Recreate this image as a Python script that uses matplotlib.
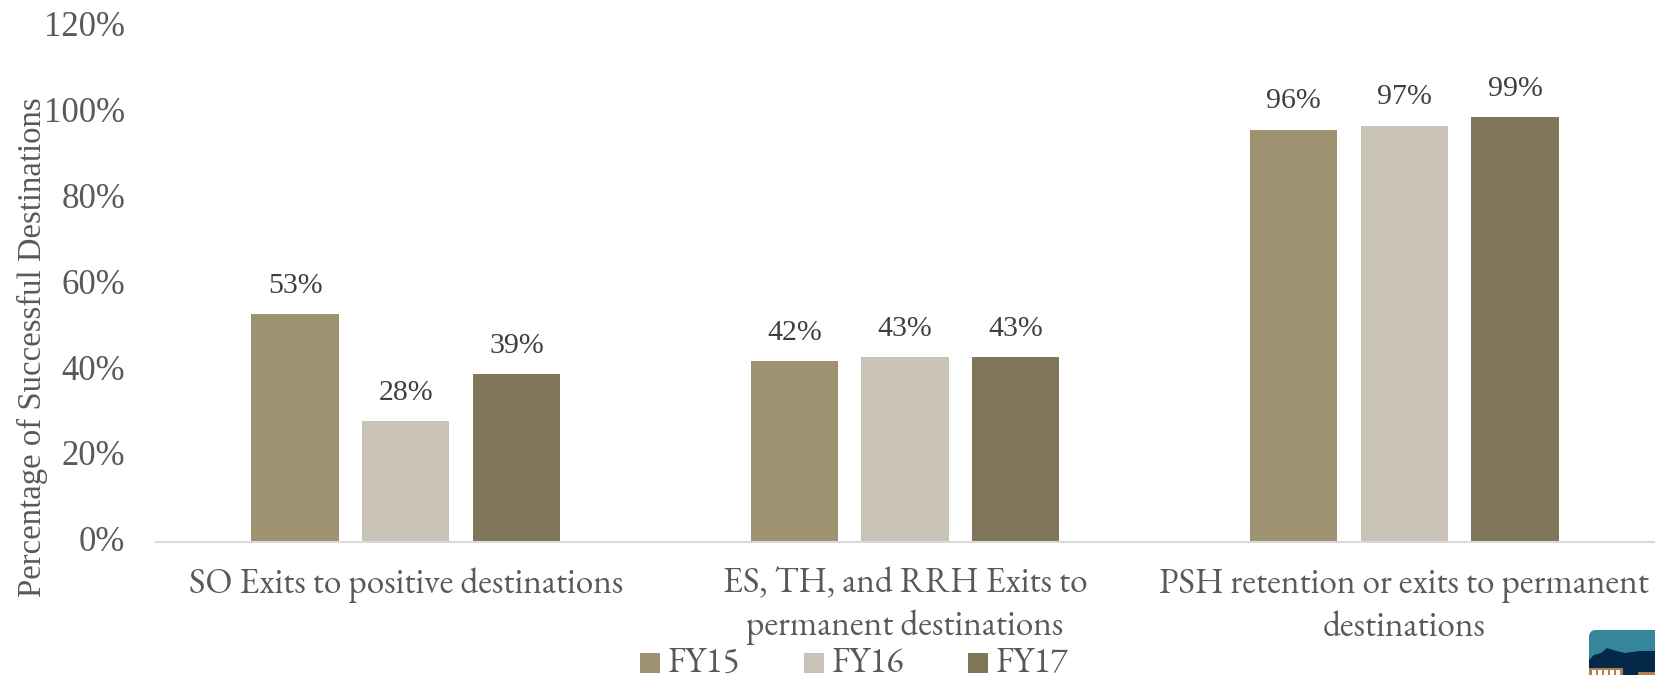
import matplotlib
matplotlib.use('Agg')
import matplotlib.pyplot as plt
from matplotlib.patches import FancyBboxPatch, Rectangle, Polygon
from matplotlib.transforms import ScaledTranslation
import numpy as np

categories = ['SO Exits to positive destinations',
              'ES, TH, and RRH Exits to\npermanent destinations',
              'PSH retention or exits to permanent\ndestinations']
fy15 = [53, 42, 96]
fy16 = [28, 43, 97]
fy17 = [39, 43, 99]
series = ['FY15', 'FY16', 'FY17']
colors = ['#9F9270', '#C9C2B6', '#80775B']
yticks = [0, 20, 40, 60, 80, 100, 120]

plt.rcParams['font.family'] = ['EB Garamond', 'Liberation Serif', 'DejaVu Serif']
W, H = 1655, 675
fig = plt.figure(figsize=(W / 100, H / 100), dpi=100)
ax = fig.add_axes([156 / W, 1 - 541.5 / H, (1654 - 156) / W, (541.5 - 27) / H])

x = np.arange(3)
offsets = [-0.2216, 0, 0.2216]
for vals, off, c, name in zip([fy15, fy16, fy17], offsets, colors, series):
    bars = ax.bar(x + off, vals, width=0.175, color=c, label=name)
    for b, v in zip(bars, vals):
        ax.text(b.get_x() + b.get_width() / 2, v + 3.6, f'{v}%', ha='center', va='bottom',
                fontsize=21.5, color='#404040', family=['Liberation Serif'])

ax.set_xlim(-0.5, 2.5)
ax.set_ylim(0, 120)
ax.set_yticks(yticks)
ax.set_yticklabels([f'{t}%' for t in yticks], fontsize=25, color='#595959', family=['Liberation Serif'])
ax.set_xticks(x)
ax.set_xticklabels(categories, fontsize=25.4, color='#595959', linespacing=1.27)
ax.tick_params(length=0)
ax.tick_params(axis='y', pad=22)
ax.tick_params(axis='x', pad=18.5)
# tick labels sit a little above the gridline position
for lab in ax.get_yticklabels():
    lab.set_transform(lab.get_transform() + ScaledTranslation(0, 3 / 100, fig.dpi_scale_trans))
for s in ['top', 'right', 'left']:
    ax.spines[s].set_visible(False)
ax.spines['bottom'].set_color('#D9D9D9')
ax.spines['bottom'].set_linewidth(1.5)

fig.text(32 / W, 1 - 347 / H, 'Percentage of Successful Destinations', rotation=90,
         ha='center', va='center', fontsize=23.6, color='#595959', family=['Liberation Serif'])

# legend
for name, c, lx in zip(series, colors, [640, 804, 968]):
    fig.patches.append(Rectangle((lx / W, 1 - 673 / H), 20 / W, 20 / H, transform=fig.transFigure,
                                 facecolor=c, edgecolor='none'))
    fig.text((lx + 28) / W, 1 - 672 / H, name, ha='left', va='baseline', fontsize=25.5, color='#595959')

# logo, cut by the lower right corner
lg = fig.add_axes([0, 0, 1, 1], facecolor='none')
lg.set_xlim(0, W)
lg.set_ylim(H, 0)
lg.axis('off')
lg.add_patch(FancyBboxPatch((1589, 630), 90, 70, boxstyle='round,pad=0,rounding_size=7',
                            facecolor='#35869A', edgecolor='none'))
lg.add_patch(Polygon([(1589, 660), (1589, 675), (1655, 675), (1655, 651), (1640, 651), (1625, 653),
                      (1613, 650), (1607, 648), (1601, 653), (1594, 655)],
                     facecolor='#032848', edgecolor='none'))
lg.add_patch(Rectangle((1589, 668), 34, 7, facecolor='#B08050', edgecolor='none'))
lg.add_patch(Rectangle((1638, 672), 17, 3, facecolor='#B08050', edgecolor='none'))
for wx in [1592, 1598, 1604, 1610, 1616]:
    lg.add_patch(Rectangle((wx, 670), 4, 5, facecolor='white', edgecolor='none'))

fig.savefig('out.png', dpi=100)
